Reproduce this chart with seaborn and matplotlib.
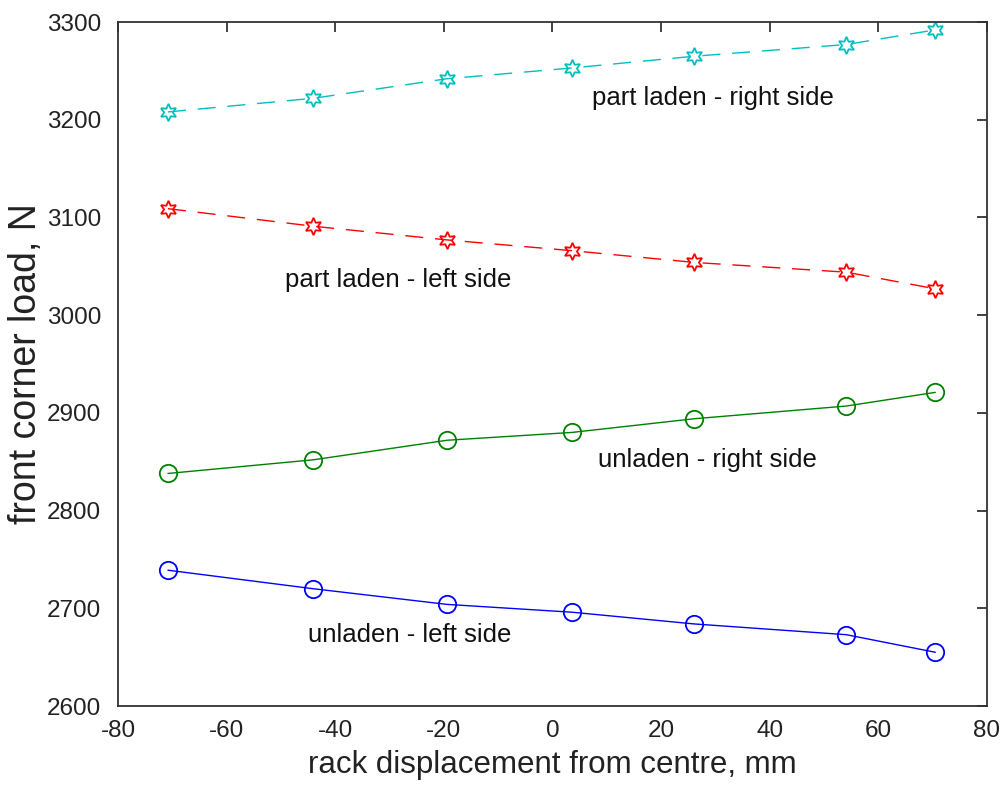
import matplotlib
matplotlib.use("Agg")
import matplotlib.pyplot as plt
import seaborn as sns
import pandas as pd

# rack displacement positions, mm
rack_mm = [-70.8, -44.0, -19.4, 3.6, 26.1, 54.1, 70.5]

# front corner loads, N
part_laden_right = [3208, 3222, 3242, 3253, 3265, 3277, 3292]
part_laden_left = [3109, 3091, 3077, 3066, 3054, 3044, 3027]
unladen_right = [2838, 2852, 2872, 2880, 2894, 2907, 2921]
unladen_left = [2739, 2720, 2704, 2696, 2684, 2673, 2655]

series_names = ["part laden - right side", "part laden - left side",
                "unladen - right side", "unladen - left side"]
series_values = [part_laden_right, part_laden_left, unladen_right, unladen_left]

# label anchor points (data coordinates)
label_x = [7.3, -49.2, 8.4, -45.0]
label_y = [3215, 3029, 2845, 2666]

x_ticks = [-80, -60, -40, -20, 0, 20, 40, 60, 80]
y_ticks = [2600, 2700, 2800, 2900, 3000, 3100, 3200, 3300]

colors = ["#00BFBF", "#FF0000", "#008000", "#0000FF"]
hexagram = (6, 1, 0)
markers = [hexagram, hexagram, "o", "o"]
dashed = (0, (13, 8.5))
styles = [dashed, dashed, "-", "-"]

sns.set_style("white")
plt.rcParams["font.family"] = ["Liberation Sans", "DejaVu Sans"]
plt.rcParams["axes.unicode_minus"] = False

fig = plt.figure(figsize=(10.04, 7.87), dpi=100)
ax = fig.add_axes([0.1175, 0.1029, 0.8655, 0.8691])

for name, vals, c, m, ls in zip(series_names, series_values, colors, markers, styles):
    df = pd.DataFrame({"x": rack_mm, "y": vals})
    sns.lineplot(data=df, x="x", y="y", ax=ax, color=c, linewidth=1.0,
                 marker=m, markersize=12.5, markerfacecolor="none",
                 markeredgecolor=c, markeredgewidth=1.3, sort=False)
    ax.lines[-1].set_linestyle(ls)

for name, tx, ty in zip(series_names, label_x, label_y):
    ax.text(tx, ty, name, fontsize=18.5, color="#111111", ha="left", va="baseline")

ax.set_xlim(-80, 80)
ax.set_ylim(2600, 3300)
ax.set_xticks(x_ticks)
ax.set_yticks(y_ticks)
ax.tick_params(direction="in", length=7, width=1.2, top=True, right=True,
               labelsize=17.5, colors="#222222")
ax.tick_params(axis="x", pad=10)
ax.tick_params(axis="y", pad=12)
for s in ax.spines.values():
    s.set_linewidth(1.3)
    s.set_color("#333333")
    s.set_visible(True)

ax.set_xlabel("rack displacement from centre, mm", fontsize=22.5, color="#222222", labelpad=6)
ax.set_ylabel("front corner load, N", fontsize=27, color="#222222", labelpad=2)

fig.savefig("out.png", dpi=100)
